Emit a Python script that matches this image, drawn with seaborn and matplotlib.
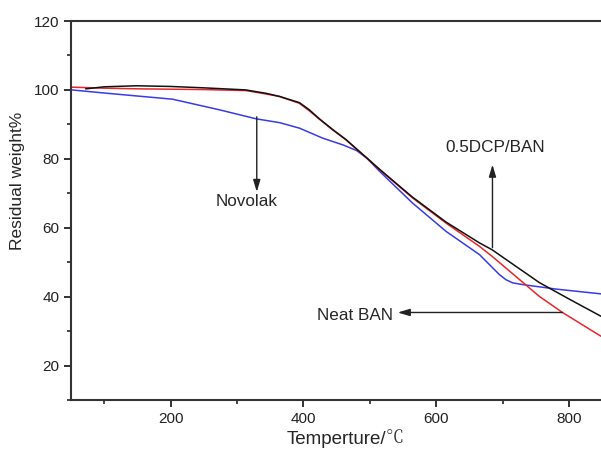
import numpy as np
import pandas as pd
import matplotlib
matplotlib.use("Agg")
import matplotlib.pyplot as plt
from matplotlib.ticker import MultipleLocator
import seaborn as sns

# ---- data ----
dcp_T = [72, 100, 149, 200, 250, 313, 344, 364, 394, 409, 424, 444, 464, 515, 564, 615, 665, 684, 755, 800, 848]
dcp_W = [100.3, 100.9, 101.2, 101.0, 100.6, 100.0, 99.0, 98.1, 96.3, 94.2, 91.6, 88.5, 85.6, 76.9, 68.9, 61.6, 55.6, 53.6, 44.1, 39.3, 34.3]

neat_T = [51, 100, 154, 250, 314, 344, 364, 394, 409, 424, 444, 464, 515, 564, 615, 665, 684, 755, 790, 848]
neat_W = [100.8, 100.5, 100.3, 100.1, 99.8, 98.8, 98.1, 96.1, 93.9, 91.5, 88.4, 85.5, 76.8, 68.7, 61.3, 54.6, 51.7, 40.1, 35.4, 28.5]

novo_T = [51, 100, 203, 274, 329, 364, 394, 429, 460, 480, 495, 515, 564, 615, 665, 680, 695, 705, 715, 730, 780, 848]
novo_W = [100.0, 99.1, 97.3, 94.2, 91.6, 90.5, 88.9, 86.0, 84.0, 82.4, 80.3, 76.3, 67.2, 58.9, 52.2, 49.3, 46.4, 44.9, 44.0, 43.5, 42.2, 40.8]

series_names = ["0.5DCP/BAN", "Neat BAN", "Novolak"]
series_colors = ["#111111", "#e8262b", "#3a3ae6"]

x_major = [200, 400, 600, 800]
y_major = [20, 40, 60, 80, 100, 120]

df = pd.concat([
    pd.DataFrame({"T": dcp_T, "W": dcp_W, "s": series_names[0]}),
    pd.DataFrame({"T": neat_T, "W": neat_W, "s": series_names[1]}),
    pd.DataFrame({"T": novo_T, "W": novo_W, "s": series_names[2]}),
], ignore_index=True)

sns.set_theme(style="ticks")
plt.rcParams["font.family"] = ["Liberation Sans", "Noto Sans CJK SC", "DejaVu Sans"]

fig = plt.figure(figsize=(6.01, 4.51), dpi=100)
ax = fig.add_axes([71 / 601, 1 - 400 / 451, 530 / 601, 379 / 451])

sns.lineplot(data=df, x="T", y="W", hue="s", palette=dict(zip(series_names, series_colors)),
             hue_order=series_names[::-1], sort=False, estimator=None, legend=False,
             linewidth=1.1, ax=ax)

ax.set_xlim(50, 848)
ax.set_ylim(10, 120)
ax.set_xticks(x_major)
ax.set_yticks(y_major)
ax.xaxis.set_minor_locator(MultipleLocator(100))
ax.yaxis.set_minor_locator(MultipleLocator(10))
ax.tick_params(which="major", direction="out", length=5, width=1.3, labelsize=11, colors="#222222")
ax.tick_params(which="minor", direction="out", length=3, width=1.2)
ax.spines["right"].set_visible(False)
for s in ["left", "bottom", "top"]:
    ax.spines[s].set_linewidth(1.5)
    ax.spines[s].set_color("#333333")

ax.set_xlabel("Temperture/", fontsize=13.5)
ax.xaxis.set_label_coords(0.5, -0.082)
ax.annotate("\u2103", xy=(1, 0), xycoords=ax.xaxis.label, ha="left", va="bottom",
            fontsize=13, family=["Noto Serif CJK SC", "Noto Sans CJK SC", "DejaVu Sans"], color="#333333")
ax.set_ylabel("Residual weight%", fontsize=12.5)
ax.yaxis.set_label_coords(-0.087, 0.578)

arrow = dict(arrowstyle="-|>,head_length=0.6,head_width=0.18", color="#222222", lw=1.0, shrinkA=0, shrinkB=0)
ax.annotate("", xy=(329.7, 70.4), xytext=(329.7, 92.2), arrowprops=arrow)
ax.text(313.9, 67.5, "Novolak", ha="center", va="center", fontsize=12.3)
ax.annotate("", xy=(684.6, 78.3), xytext=(684.6, 54.2), arrowprops=arrow)
ax.text(688.4, 83.2, "0.5DCP/BAN", ha="center", va="center", fontsize=12.3)
ax.annotate("", xy=(542, 35.4), xytext=(790, 35.4), arrowprops=arrow)
ax.text(534.2, 34.6, "Neat BAN", ha="right", va="center", fontsize=12.3)

fig.savefig("out.png", dpi=100)
